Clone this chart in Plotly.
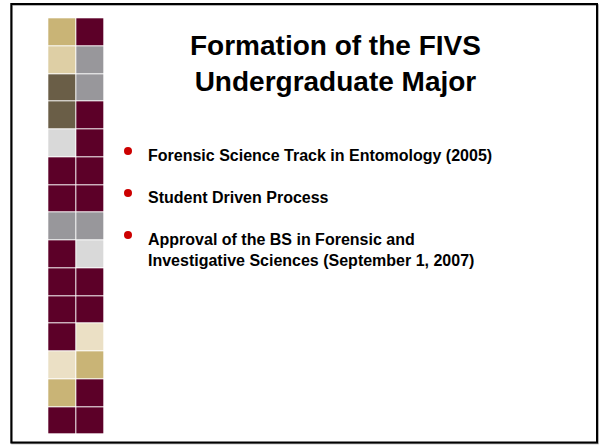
import plotly.graph_objects as go

# ---- data ----
title_lines = ["Formation of the FIVS", "Undergraduate Major"]
bullets = [
    "Forensic Science Track in Entomology (2005)",
    "Student Driven Process",
    "Approval of the BS in Forensic and<br>Investigative Sciences (September 1, 2007)",
]
palette_names = ["maroon", "tan", "lighttan", "gray", "olive", "lightgray", "cream"]
palette_colors = ["#5C0028", "#C9B476", "#DECFA5", "#98979B", "#6A5E47", "#D9D9D9", "#EBE0C5"]
left_col = ["tan", "lighttan", "olive", "olive", "lightgray", "maroon", "maroon", "gray",
            "maroon", "maroon", "maroon", "maroon", "cream", "tan", "maroon"]
right_col = ["maroon", "gray", "gray", "maroon", "maroon", "maroon", "maroon", "gray",
             "lightgray", "maroon", "maroon", "cream", "tan", "maroon", "maroon"]

# ---- build ----
n = len(palette_names)
idx = {name: i for i, name in enumerate(palette_names)}
z = [[idx[l] + 0.5, idx[r] + 0.5] for l, r in zip(left_col, right_col)]
colorscale = []
for i, c in enumerate(palette_colors):
    colorscale.append([i / n, c])
    colorscale.append([(i + 1) / n, c])

fig = go.Figure()
cell = 27.75
fig.add_trace(go.Heatmap(
    z=z, x0=48.3 + cell / 2, dx=cell, y0=18.3 + cell / 2, dy=cell,
    colorscale=colorscale, zmin=0, zmax=n, showscale=False,
    xgap=1, ygap=1, hoverinfo="skip",
))

bullet_x = 128
bullet_y0 = 151
bullet_step = 42
fig.add_trace(go.Scatter(
    x=[bullet_x] * len(bullets),
    y=[bullet_y0 + i * bullet_step for i in range(len(bullets))],
    mode="markers",
    marker=dict(symbol="circle", size=8, color="#CC0000"),
    hoverinfo="skip", showlegend=False,
))

font_family = "Liberation Sans, Arial, sans-serif"
annotations = [dict(
    x=335, y=63, xref="x", yref="y", showarrow=False,
    text="<b>" + "<br>".join(title_lines) + "</b>",
    font=dict(family=font_family, size=28, color="#000000"),
    xanchor="center", yanchor="middle", align="center",
)]
for i, b in enumerate(bullets):
    annotations.append(dict(
        x=146, y=bullet_y0 + i * bullet_step - 6, xref="x", yref="y", showarrow=False,
        text="<b>" + b + "</b>",
        font=dict(family=font_family, size=16, color="#000000"),
        xanchor="left", yanchor="top", align="left",
    ))

shapes = [
    dict(type="rect", xref="x", yref="y", x0=12, y0=5, x1=598, y1=443.5,
         line=dict(color="#9A9A9A", width=1.5)),
    dict(type="rect", xref="x", yref="y", x0=11.3, y0=4, x1=597, y1=442.5,
         line=dict(color="#000000", width=2)),
]

fig.update_layout(
    width=600, height=445,
    margin=dict(l=0, r=0, t=0, b=0),
    paper_bgcolor="#FFFFFF", plot_bgcolor="#FFFFFF",
    xaxis=dict(range=[0, 600], visible=False, fixedrange=True),
    yaxis=dict(range=[445, 0], visible=False, fixedrange=True),
    annotations=annotations, shapes=shapes, showlegend=False,
)

fig.write_html("out.html", config={"displayModeBar": False},
               post_script="document.body.style.margin='0';document.body.style.overflow='hidden';")
